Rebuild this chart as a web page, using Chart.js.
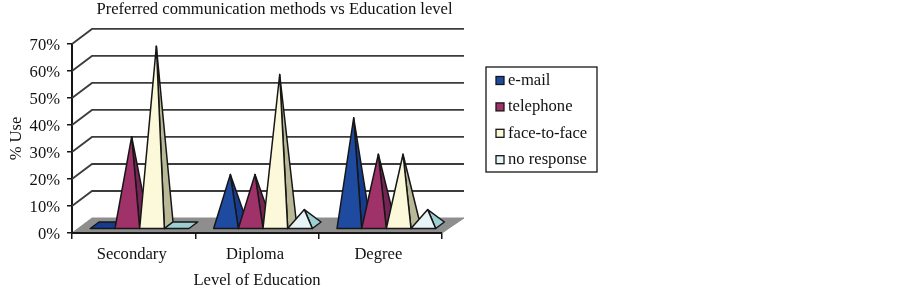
<!DOCTYPE html>
<html>
<head>
<meta charset="utf-8">
<style>
  html, body { margin: 0; padding: 0; background: #fff; }
  canvas { display: block; }
</style>
<script src="https://cdn.jsdelivr.net/npm/chart.js@4"></script>
</head>
<body>
<canvas id="grafico" width="902" height="290"></canvas>
<script>
// dados
const categorias = ['Secondary', 'Diploma', 'Degree'];
const email      = [0, 20, 41];
const telefone   = [34, 20, 27.5];
const presencial = [67.5, 57, 27.5];
const semResposta = [0, 7, 7];
const nomesSeries = ['e-mail', 'telephone', 'face-to-face', 'no response'];

const coresFrente = ['#1e4b9f', '#9f3369', '#fbf9d9', '#e6f4f7'];
const coresLado   = ['#163c8f', '#762455', '#b9b897', '#9dcfd2'];
const corLinha = '#161616';
const fonte = 'Liberation Serif';
const tamFonte = 16.6;

// deslocamentos da perspectiva
const FUNDO_X = 20, FUNDO_Y = 15, FUNDO_X_DIR = 22;
const INSET_X = 6, INSET_Y = 4.5;
const BASE_X = 8.7, BASE_Y = 6.5;

function poligono(ctx, pontos, cor) {
  ctx.beginPath();
  pontos.forEach((p, i) => i ? ctx.lineTo(p[0], p[1]) : ctx.moveTo(p[0], p[1]));
  ctx.closePath();
  ctx.fillStyle = cor;
  ctx.fill();
  ctx.stroke();
}

function desenharParedes(chart) {
  const ctx = chart.ctx, { left, right } = chart.chartArea;
  const y = chart.scales.y;
  ctx.save();
  ctx.strokeStyle = '#3c3c3c';
  ctx.lineWidth = 1.8;
  y.ticks.forEach(t => {
    if (t.value === 0) return;
    const py = y.getPixelForValue(t.value);
    ctx.beginPath();
    ctx.moveTo(left, py);
    ctx.lineTo(left + FUNDO_X, py - FUNDO_Y);
    ctx.lineTo(right + FUNDO_X_DIR, py - FUNDO_Y);
    ctx.stroke();
  });
  // piso
  const y0 = y.getPixelForValue(0);
  ctx.beginPath();
  ctx.moveTo(left, y0);
  ctx.lineTo(right, y0);
  ctx.lineTo(right + FUNDO_X_DIR, y0 - FUNDO_Y);
  ctx.lineTo(left + FUNDO_X, y0 - FUNDO_Y);
  ctx.closePath();
  ctx.fillStyle = '#8e8e8e';
  ctx.fill();
  ctx.strokeStyle = '#8e8e8e';
  ctx.lineWidth = 1;
  ctx.stroke();
  ctx.beginPath();
  ctx.moveTo(left, y0);
  ctx.lineTo(right, y0);
  ctx.strokeStyle = corLinha;
  ctx.lineWidth = 2;
  ctx.stroke();
  ctx.restore();
}

function desenharPiramides(chart) {
  const ctx = chart.ctx, y = chart.scales.y;
  ctx.save();
  ctx.strokeStyle = corLinha;
  ctx.lineWidth = 1.5;
  ctx.lineJoin = 'round';
  categorias.forEach((_, c) => {
    chart.data.datasets.forEach((ds, s) => {
      const barra = chart.getDatasetMeta(s).data[c];
      const esq = barra.x - barra.width / 2 + INSET_X;
      const dir = barra.x + barra.width / 2 + INSET_X;
      const base = y.getPixelForValue(0) - INSET_Y;
      if (ds.data[c] === 0) {
        poligono(ctx, [[esq, base], [dir, base], [dir + BASE_X, base - BASE_Y], [esq + BASE_X, base - BASE_Y]], coresLado[s]);
        return;
      }
      const topo = [barra.x + INSET_X + BASE_X / 2, y.getPixelForValue(ds.data[c]) - INSET_Y];
      poligono(ctx, [topo, [dir, base], [dir + BASE_X, base - BASE_Y]], coresLado[s]);
      poligono(ctx, [topo, [esq, base], [dir, base]], coresFrente[s]);
    });
  });
  ctx.restore();
}

function desenharLegenda(chart) {
  const ctx = chart.ctx;
  ctx.save();
  ctx.strokeStyle = corLinha;
  ctx.lineWidth = 1.3;
  ctx.strokeRect(486, 67, 111, 105);
  ctx.font = tamFonte + 'px "' + fonte + '"';
  ctx.textBaseline = 'middle';
  chart.data.datasets.forEach((ds, s) => {
    const linha = 80.5 + s * 26.4;
    ctx.fillStyle = coresFrente[s];
    ctx.fillRect(496, linha - 4, 8, 8);
    ctx.strokeRect(496, linha - 4, 8, 8);
    ctx.fillStyle = '#111';
    ctx.fillText(ds.label, 508, linha);
  });
  ctx.restore();
}

const piramides = {
  id: 'piramides',
  afterLayout(chart) {
    // titulo centrado sobre o grafico inteiro, nao so a area do plot
    chart.titleBlock.left = 96;
    chart.titleBlock.right = 453;
  },
  beforeDatasetsDraw(chart) {
    desenharParedes(chart);
    desenharPiramides(chart);
    desenharLegenda(chart);
    return false;
  }
};

new Chart(document.getElementById('grafico'), {
  type: 'bar',
  data: {
    labels: categorias,
    datasets: [email, telefone, presencial, semResposta].map((valores, i) => ({
      label: nomesSeries[i],
      data: valores,
      backgroundColor: coresFrente[i],
      categoryPercentage: 0.8,
      barPercentage: 1
    }))
  },
  options: {
    responsive: false,
    animation: false,
    layout: { padding: { left: 0, right: 460, top: 0, bottom: 0 } },
    plugins: {
      legend: { display: false },
      tooltip: { enabled: false },
      title: {
        display: true,
        text: 'Preferred communication methods vs Education level',
        color: '#111',
        font: { family: fonte, size: tamFonte, weight: 'normal' },
        padding: { top: 0, bottom: 24 }
      }
    },
    scales: {
      x: {
        afterFit: s => { s.height = 57; },
        grid: { drawOnChartArea: false, drawTicks: true, tickLength: 6, color: corLinha, lineWidth: 1.5 },
        border: { color: corLinha, width: 2 },
        ticks: { color: '#111', font: { family: fonte, size: tamFonte }, padding: 6, labelOffset: -2, maxRotation: 0 },
        title: {
          display: true,
          text: 'Level of Education',
          color: '#111',
          font: { family: fonte, size: tamFonte },
          padding: { top: 0, bottom: -1 }
        }
      },
      y: {
        min: 0,
        max: 70,
        afterFit: s => { s.width = 72; },
        grid: { drawOnChartArea: false, drawTicks: true, tickLength: 5, color: corLinha, lineWidth: 1.5 },
        border: { color: corLinha, width: 2 },
        ticks: { stepSize: 10, color: '#111', font: { family: fonte, size: tamFonte }, padding: 7, labelOffset: 2, callback: v => v + '%' },
        title: {
          display: true,
          text: '% Use',
          color: '#111',
          font: { family: fonte, size: tamFonte },
          padding: { top: 7, bottom: 0 }
        }
      }
    }
  },
  plugins: [piramides]
});
</script>
</body>
</html>
